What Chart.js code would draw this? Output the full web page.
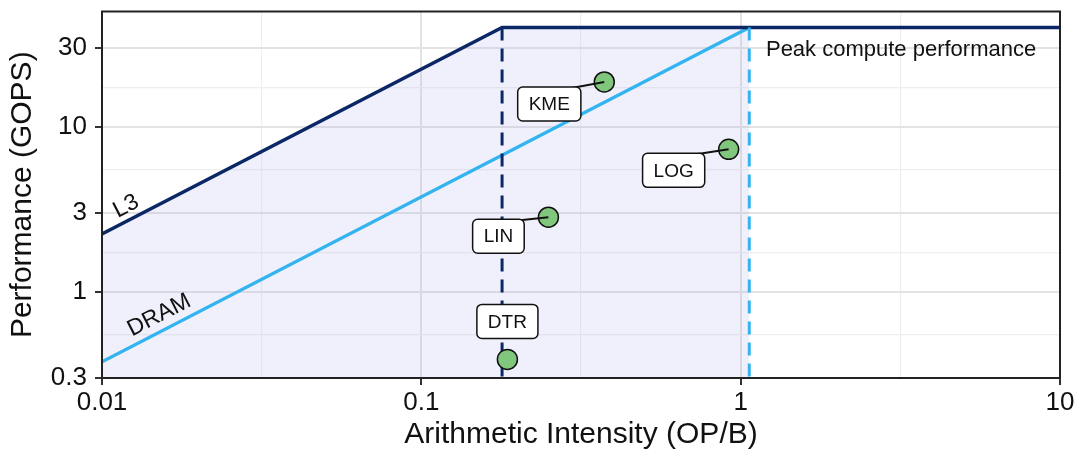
<!DOCTYPE html>
<html>
<head>
<meta charset="utf-8">
<script src="https://cdn.jsdelivr.net/npm/chart.js@4/dist/chart.umd.min.js"></script>
<style>
  html, body { margin: 0; padding: 0; background: #fff; }
  #wrap { width: 1076px; height: 453px; }
</style>
</head>
<body>
<div id="wrap"><canvas id="roof"></canvas></div>
<script>
// tick labels
const xTickValues = [0.01, 0.1, 1, 10];
const yTickValues = [0.3, 1, 3, 10, 30];

// rooflines
const l3RoofX = [0.01, 0.179, 10];
const l3RoofY = [2.24, 40, 40];
const dramRoofX = [0.01, 1.064];
const dramRoofY = [0.376, 40];

// attainable region that gets shaded (L3 roof up to DRAM ridge)
const shadeX = [0.01, 0.179, 1.064];
const shadeY = [2.24, 40, 40];

// kernels
const kernelNames = ['KME', 'LOG', 'LIN', 'DTR'];
const kernelIntensity = [0.374, 0.917, 0.25, 0.186];
const kernelPerf = [18.7, 7.3, 2.83, 0.389];

const FONT = '"Liberation Sans", Arial, Helvetica, sans-serif';
const NAVY = '#0c2766';
const SKY = '#33b4ee';

const pts = (xs, ys) => xs.map((v, i) => ({x: v, y: ys[i]}));

// geometric midpoints for the minor grid
function withMinor(vals) {
    const out = [];
    vals.forEach((v, i) => {
        out.push(v);
        if (i < vals.length - 1) out.push(Math.sqrt(v * vals[i + 1]));
    });
    return out;
}

const annot = {
    id: 'annot',
    afterDatasetsDraw(chart, args, opts) {
        const {ctx, chartArea: a, scales: {x, y}} = chart;
        ctx.save();

        // panel border
        ctx.strokeStyle = '#222';
        ctx.lineWidth = 2;
        ctx.strokeRect(a.left, a.top, a.right - a.left, a.bottom - a.top);

        // roof names, tilted along the slope
        const ang = Math.atan2(
            y.getPixelForValue(l3RoofY[1]) - y.getPixelForValue(l3RoofY[0]),
            x.getPixelForValue(l3RoofX[1]) - x.getPixelForValue(l3RoofX[0]));
        ctx.fillStyle = '#111';
        ctx.font = '23px ' + FONT;
        ctx.textAlign = 'center';
        ctx.textBaseline = 'middle';
        opts.roofText.forEach(t => {
            ctx.save();
            ctx.translate(x.getPixelForValue(t.x), y.getPixelForValue(t.y));
            ctx.rotate(ang);
            ctx.fillText(t.text, 0, 0);
            ctx.restore();
        });

        ctx.font = '22px ' + FONT;
        ctx.textAlign = 'left';
        ctx.fillText(opts.peak.text, x.getPixelForValue(opts.peak.x), y.getPixelForValue(opts.peak.y));

        // repelled kernel labels
        ctx.font = '19px ' + FONT;
        ctx.textAlign = 'center';
        kernelNames.forEach((name, i) => {
            const px = x.getPixelForValue(kernelIntensity[i]);
            const py = y.getPixelForValue(kernelPerf[i]);
            const [dx, dy, sx] = opts.offsets[i];
            const cx = px + dx;
            const cy = py + dy;
            const w = ctx.measureText(name).width + 22;
            const h = 34;
            ctx.strokeStyle = '#111';
            if (sx !== null) {
                ctx.lineWidth = 2;
                ctx.beginPath();
                ctx.moveTo(cx + sx, cy - h / 2 + 2);
                ctx.lineTo(px, py);
                ctx.stroke();
            }
            ctx.beginPath();
            ctx.roundRect(cx - w / 2, cy - h / 2, w, h, 5);
            ctx.fillStyle = '#fff';
            ctx.fill();
            ctx.lineWidth = 1.5;
            ctx.stroke();
            ctx.fillStyle = '#111';
            ctx.fillText(name, cx, cy + 1);
        });
        ctx.restore();
    }
};

const gridColor = (ctx, majors) => majors.includes(ctx.tick.value) ? '#e3e3e3' : '#eeeeee';
const gridWidth = (ctx, majors) => majors.includes(ctx.tick.value) ? 2 : 1.2;

new Chart(document.getElementById('roof'), {
    type: 'line',
    data: {
        datasets: [
            {
                data: pts(kernelIntensity, kernelPerf),
                showLine: false,
                pointRadius: 10,
                pointBackgroundColor: '#80c67d',
                pointBorderColor: '#111',
                pointBorderWidth: 1.5,
                order: 1
            },
            {
                data: pts(l3RoofX, l3RoofY),
                borderColor: NAVY,
                borderWidth: 3.4,
                pointRadius: 0,
                order: 3
            },
            {
                data: pts(dramRoofX, dramRoofY),
                borderColor: SKY,
                borderWidth: 3.4,
                pointRadius: 0,
                order: 3
            },
            {
                data: [{x: l3RoofX[1], y: l3RoofY[1]}, {x: l3RoofX[1], y: yTickValues[0]}],
                borderColor: NAVY,
                borderWidth: 3,
                borderDash: [13, 8],
                pointRadius: 0,
                order: 2
            },
            {
                data: [{x: dramRoofX[1], y: dramRoofY[1]}, {x: dramRoofX[1], y: yTickValues[0]}],
                borderColor: SKY,
                borderWidth: 3,
                borderDash: [13, 8],
                pointRadius: 0,
                order: 2
            },
            {
                data: pts(shadeX, shadeY),
                borderWidth: 0,
                pointRadius: 0,
                fill: 'start',
                backgroundColor: 'rgba(175, 175, 240, 0.19)',
                order: 4
            }
        ]
    },
    options: {
        responsive: true,
        maintainAspectRatio: false,
        animation: false,
        layout: {padding: {top: 7, right: 16, left: 0, bottom: 0}},
        plugins: {
            legend: false,
            tooltip: {enabled: false},
            annot: {
                roofText: [
                    {text: 'L3', x: 0.0119, y: 3.29},
                    {text: 'DRAM', x: 0.0151, y: 0.72}
                ],
                peak: {text: 'Peak compute performance', x: 1.2, y: 29.2},
                offsets: [[-55, 22, 17], [-55, 21, 16], [-50, 19, 12], [0, -38, null]]
            }
        },
        scales: {
            x: {
                type: 'logarithmic',
                min: xTickValues[0],
                max: xTickValues[xTickValues.length - 1],
                afterBuildTicks: s => { s.ticks = withMinor(xTickValues).map(v => ({value: v})); },
                afterFit: s => { s.height = 75; s.paddingLeft = 0; s.paddingRight = 0; },
                border: {display: false},
                grid: {
                    color: c => gridColor(c, xTickValues),
                    lineWidth: c => gridWidth(c, xTickValues),
                    tickColor: c => xTickValues.includes(c.tick.value) ? '#333' : 'rgba(0,0,0,0)',
                    tickWidth: 2,
                    tickLength: 7
                },
                ticks: {
                    autoSkip: false,
                    maxRotation: 0,
                    padding: 2,
                    color: '#111',
                    font: {family: FONT, size: 26},
                    callback: v => xTickValues.includes(v) ? String(v) : ''
                },
                title: {
                    display: true,
                    text: 'Arithmetic Intensity (OP/B)',
                    color: '#111',
                    font: {family: FONT, size: 30},
                    padding: {top: 0, bottom: 0}
                }
            },
            y: {
                type: 'logarithmic',
                min: yTickValues[0],
                max: 50,
                afterBuildTicks: s => { s.ticks = withMinor(yTickValues).map(v => ({value: v})); },
                afterFit: s => { s.width = 102; s.paddingTop = 0; s.paddingBottom = 0; },
                border: {display: false},
                grid: {
                    color: c => gridColor(c, yTickValues),
                    lineWidth: c => gridWidth(c, yTickValues),
                    tickColor: c => yTickValues.includes(c.tick.value) ? '#333' : 'rgba(0,0,0,0)',
                    tickWidth: 2,
                    tickLength: 7
                },
                ticks: {
                    autoSkip: false,
                    padding: 8,
                    color: '#111',
                    font: {family: FONT, size: 26},
                    callback: v => yTickValues.includes(v) ? String(v) : ''
                },
                title: {
                    display: true,
                    text: 'Performance (GOPS)',
                    color: '#111',
                    font: {family: FONT, size: 30},
                    padding: {top: 5, bottom: 0}
                }
            }
        }
    },
    plugins: [annot]
});
</script>
</body>
</html>
